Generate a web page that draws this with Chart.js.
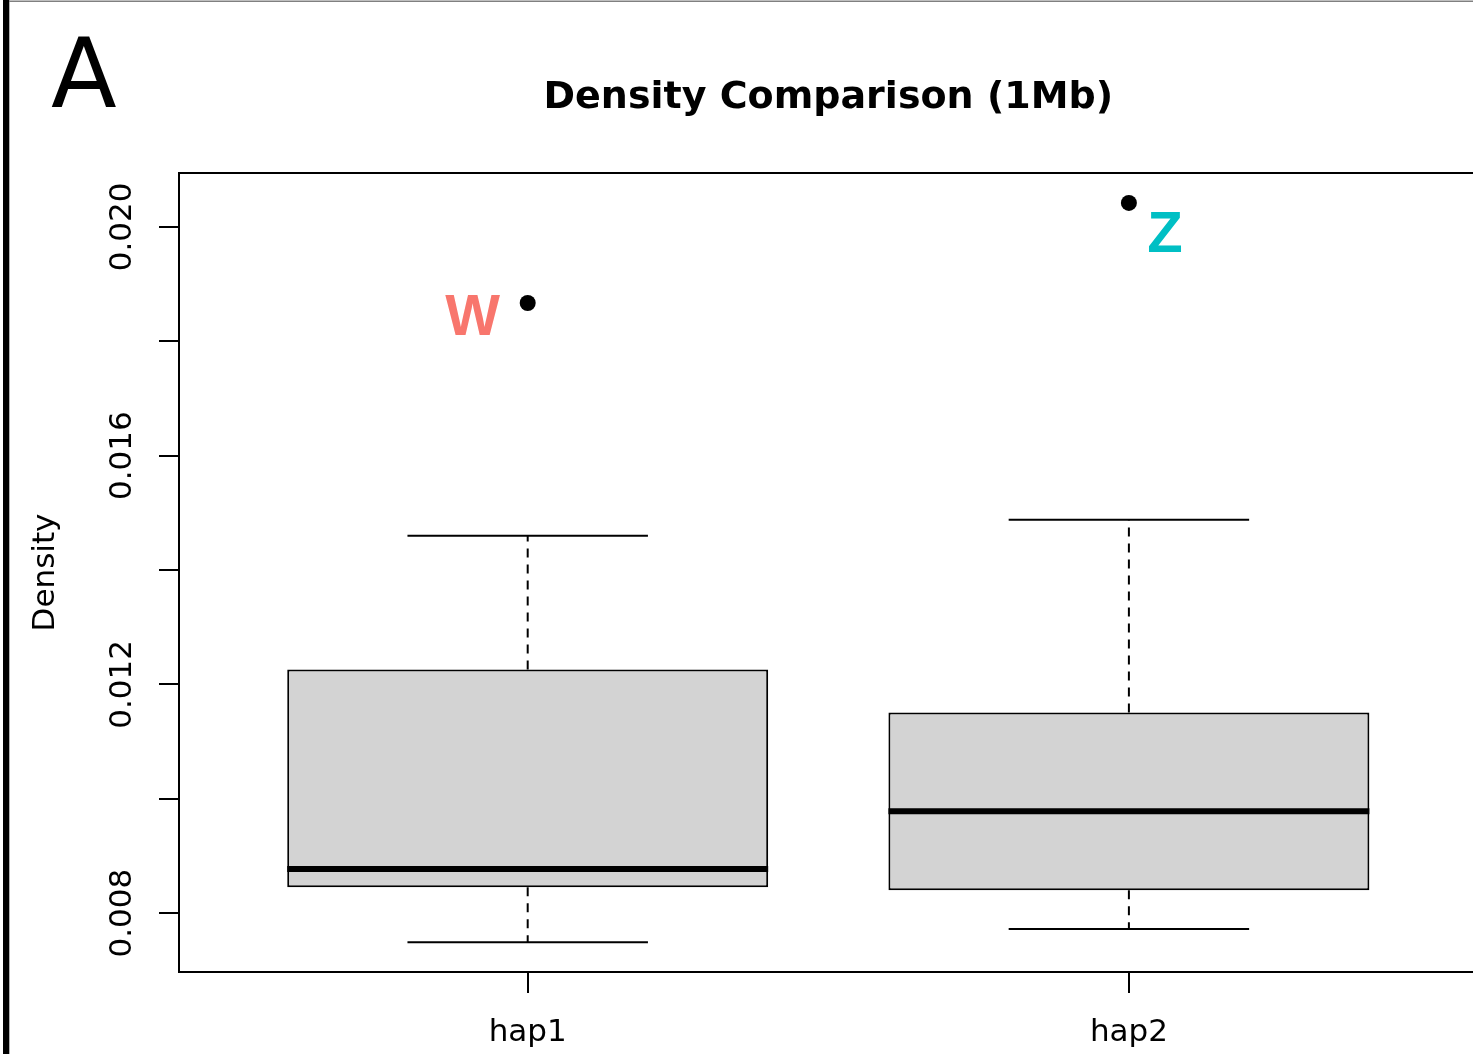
<!DOCTYPE html>
<html lang="en">
<head>
    <meta charset="UTF-8">
    <title>Density Comparison (1Mb)</title>
    <script src="https://cdn.jsdelivr.net/npm/chart.js"></script>
    <style>
        html, body {
            margin: 0;
            padding: 0;
            background: #fff;
            overflow: hidden;
        }
        #wrap {
            position: relative;
            width: 1490px;
            height: 1054px;
        }
    </style>
</head>
<body>
    <div id="wrap">
        <canvas id="boxChart" width="1490" height="1054"></canvas>
    </div>

    <script>
        // Box plot values
        const categories = ['hap1', 'hap2'];
        const q1 = [0.00845, 0.00840];
        const median = [0.00877, 0.00978];
        const q3 = [0.01226, 0.01151];
        const whiskerLow = [0.00749, 0.00772];
        const whiskerHigh = [0.01460, 0.01488];
        const outliers = [0.01867, 0.02042];
        const outlierLabels = ['W', 'Z'];
        const yTicks = [0.008, 0.010, 0.012, 0.014, 0.016, 0.018, 0.020];
        const yTickLabels = ['0.008', '', '0.012', '', '0.016', '', '0.020'];

        const BOX_HALF = 0.4;   // R default box width 0.8
        const CAP_HALF = 0.2;   // staple = half of box

        // build segment data (null y breaks the line)
        const medianPts = [], whiskerPts = [], capPts = [], outlierPts = [];
        categories.forEach((c, i) => {
            const x = i + 1;
            medianPts.push({x: x - BOX_HALF, y: median[i]}, {x: x + BOX_HALF, y: median[i]}, {x: x + 0.5, y: null});
            whiskerPts.push({x: x, y: q3[i]}, {x: x, y: whiskerHigh[i]}, {x: x, y: null});
            whiskerPts.push({x: x, y: q1[i]}, {x: x, y: whiskerLow[i]}, {x: x + 0.5, y: null});
            capPts.push({x: x - CAP_HALF, y: whiskerHigh[i]}, {x: x + CAP_HALF, y: whiskerHigh[i]}, {x: x + 0.5, y: null});
            capPts.push({x: x - CAP_HALF, y: whiskerLow[i]}, {x: x + CAP_HALF, y: whiskerLow[i]}, {x: x + 0.5, y: null});
            outlierPts.push({x: x, y: outliers[i]});
        });

        // page decorations: frame, panel letter, title, outlier tags
        const decorations = {
            id: 'decorations',
            beforeDraw(chart) {
                const ctx = chart.ctx;
                ctx.save();
                ctx.fillStyle = '#000';
                ctx.fillRect(3, 0, 6.3, chart.height);
                ctx.fillStyle = '#808080';
                ctx.fillRect(9, 0.5, chart.width, 1.5);
                ctx.restore();
            },
            afterDraw(chart) {
                const ctx = chart.ctx;
                const area = chart.chartArea;
                ctx.save();
                ctx.strokeStyle = '#000';
                ctx.lineWidth = 2;
                ctx.strokeRect(area.left, area.top, area.right - area.left, area.bottom - area.top);

                ctx.fillStyle = '#000';
                ctx.textBaseline = 'alphabetic';
                ctx.textAlign = 'left';
                ctx.font = '96px "DejaVu Sans"';
                ctx.fillText('A', 51, 107);

                ctx.textAlign = 'center';
                ctx.font = 'bold 38px "DejaVu Sans"';
                ctx.fillText('Density Comparison (1Mb)', (area.left + area.right) / 2, 108);

                const meta = chart.getDatasetMeta(0);
                const tagOffset = [[-55, 16], [36, 33]];
                const tagColor = ['#F8766D', '#00BFC4'];
                ctx.font = 'bold 58px "Liberation Sans"';
                ctx.textBaseline = 'middle';
                meta.data.forEach((pt, i) => {
                    ctx.fillStyle = tagColor[i];
                    ctx.fillText(outlierLabels[i], pt.x + tagOffset[i][0], pt.y + tagOffset[i][1]);
                });
                ctx.restore();
            }
        };

        new Chart(document.getElementById('boxChart'), {
            type: 'bar',
            data: {
                datasets: [
                    {
                        type: 'line',
                        label: 'outliers',
                        data: outlierPts,
                        showLine: false,
                        pointRadius: 8,
                        pointBorderWidth: 0,
                        pointBackgroundColor: '#000',
                        order: 0
                    },
                    {
                        type: 'line',
                        label: 'median',
                        data: medianPts,
                        borderColor: '#000',
                        borderWidth: 6,
                        borderCapStyle: 'butt',
                        pointRadius: 0,
                        spanGaps: false,
                        order: 1
                    },
                    {
                        type: 'line',
                        label: 'caps',
                        data: capPts,
                        borderColor: '#000',
                        borderWidth: 2,
                        pointRadius: 0,
                        spanGaps: false,
                        order: 2
                    },
                    {
                        type: 'line',
                        label: 'whiskers',
                        data: whiskerPts,
                        borderColor: '#000',
                        borderWidth: 2,
                        borderDash: [9, 7],
                        pointRadius: 0,
                        spanGaps: false,
                        order: 3
                    },
                    {
                        type: 'bar',
                        label: 'box',
                        data: categories.map((c, i) => ({x: i + 1, y: [q1[i], q3[i]]})),
                        backgroundColor: '#d3d3d3',
                        borderColor: '#000',
                        borderWidth: 2,
                        borderSkipped: false,
                        barPercentage: 0.8,
                        categoryPercentage: 1,
                        order: 4
                    }
                ]
            },
            options: {
                responsive: false,
                devicePixelRatio: 1,
                animation: false,
                layout: {
                    padding: {left: 0, top: 173, right: 12.4, bottom: 0}
                },
                plugins: {
                    legend: {display: false},
                    tooltip: {enabled: false},
                    title: {display: false}
                },
                scales: {
                    x: {
                        type: 'linear',
                        min: 0.42,
                        max: 2.58,
                        offset: false,
                        afterBuildTicks: (scale) => {
                            scale.ticks = categories.map((c, i) => ({value: i + 1}));
                        },
                        afterFit: (scale) => { scale.height = 82; },
                        grid: {
                            offset: false,
                            drawOnChartArea: false,
                            drawTicks: true,
                            tickLength: 21,
                            color: '#000',
                            lineWidth: 2
                        },
                        border: {display: false},
                        ticks: {
                            autoSkip: false,
                            maxRotation: 0,
                            padding: 21.5,
                            color: '#000',
                            font: {family: 'DejaVu Sans', size: 31},
                            callback: (value, index) => categories[index]
                        }
                    },
                    y: {
                        type: 'linear',
                        min: 0.00697,
                        max: 0.020943,
                        afterBuildTicks: (scale) => {
                            scale.ticks = yTicks.map(v => ({value: v}));
                        },
                        afterFit: (scale) => { scale.width = 179; },
                        grid: {
                            drawOnChartArea: false,
                            drawTicks: true,
                            tickLength: 20,
                            color: '#000',
                            lineWidth: 2
                        },
                        border: {display: false},
                        title: {
                            display: true,
                            text: 'Density',
                            color: '#000',
                            font: {family: 'DejaVu Sans', size: 31},
                            padding: {top: 27, bottom: 0}
                        },
                        ticks: {
                            autoSkip: false,
                            minRotation: 90,
                            maxRotation: 90,
                            crossAlign: 'center',
                            padding: -8.5,
                            color: '#000',
                            font: {family: 'DejaVu Sans', size: 31},
                            callback: (value, index) => yTickLabels[index]
                        }
                    }
                }
            },
            plugins: [decorations]
        });
    </script>
</body>
</html>
